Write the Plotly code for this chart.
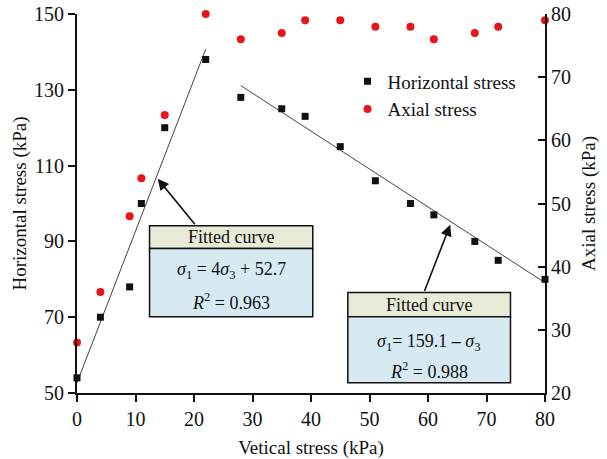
import plotly.graph_objects as go

# Vertical stress (kPa) at each loading step
vertical_stress = [0, 4, 9, 11, 15, 22, 28, 35, 39, 45, 51, 57, 61, 68, 72, 80]
# Horizontal stress (kPa), left axis
horizontal_stress = [54, 70, 78, 100, 120, 138, 128, 125, 123, 115, 106, 100, 97, 90, 85, 80]
# Axial stress (kPa), right axis
axial_stress = [28, 36, 48, 54, 64, 80, 76, 77, 79, 79, 78, 78, 76, 77, 78, 79]

# Linear fits: sigma1 = slope * sigma3 + intercept
fit1_slope, fit1_intercept, fit1_span = 4.0, 52.7, (0, 22)
fit2_slope, fit2_intercept, fit2_span = -1.0, 159.1, (28, 80)

FONT = "Liberation Serif, Times New Roman, serif"

fig = go.Figure()

for (a, b), m, c in [(fit1_span, fit1_slope, fit1_intercept),
                     (fit2_span, fit2_slope, fit2_intercept)]:
    fig.add_trace(go.Scatter(
        x=[a, b], y=[m * a + c, m * b + c], mode="lines",
        line=dict(color="#444444", width=1), showlegend=False,
        hoverinfo="skip"))

fig.add_trace(go.Scatter(
    x=vertical_stress, y=horizontal_stress, mode="markers",
    name="Horizontal stress", cliponaxis=False,
    marker=dict(symbol="square", size=7, color="#111111")))

fig.add_trace(go.Scatter(
    x=vertical_stress, y=axial_stress, mode="markers", yaxis="y2",
    name="Axial stress", cliponaxis=False,
    marker=dict(symbol="circle", size=8, color="#e8141c")))

# Boxes describing the fitted curves (data coordinates of the left axis)
boxes = [
    dict(x0=12.4, x1=40.3, top=94.1, mid=88.1, bottom=70.1,
         eq="<i>σ</i><sub>1</sub> = 4<i>σ</i><sub>3</sub> + 52.7",
         r2="<i>R</i><sup>2</sup> = 0.963", eq_y=82.3, r2_y=74.2,
         arrow_tail=(20.35, 94.1), arrow_head=(13.8, 106.5)),
    dict(x0=46.3, x1=74.1, top=76.5, mid=70.1, bottom=52.7,
         eq="<i>σ</i><sub>1</sub>= 159.1 <b>–</b> <i>σ</i><sub>3</sub>",
         r2="<i>R</i><sup>2</sup> = 0.988", eq_y=63.4, r2_y=56.0,
         arrow_tail=(59.3, 76.5), arrow_head=(63.8, 94.4)),
]

shapes, annotations = [], []
for bx in boxes:
    shapes.append(dict(type="rect", xref="x", yref="y", x0=bx["x0"], x1=bx["x1"],
                       y0=bx["mid"], y1=bx["top"], fillcolor="#e7ebd7",
                       line=dict(color="#111111", width=1.5), layer="above"))
    shapes.append(dict(type="rect", xref="x", yref="y", x0=bx["x0"], x1=bx["x1"],
                       y0=bx["bottom"], y1=bx["mid"], fillcolor="#d7e9f1",
                       line=dict(color="#111111", width=1.5), layer="above"))
    cx = (bx["x0"] + bx["x1"]) / 2
    annotations.append(dict(x=cx, y=(bx["top"] + bx["mid"]) / 2, xref="x", yref="y",
                            text="Fitted curve", showarrow=False,
                            font=dict(family=FONT, size=18, color="#111111")))
    annotations.append(dict(x=cx, y=bx["eq_y"], xref="x", yref="y", text=bx["eq"],
                            showarrow=False, font=dict(family=FONT, size=18, color="#111111")))
    annotations.append(dict(x=cx, y=bx["r2_y"], xref="x", yref="y", text=bx["r2"],
                            showarrow=False, font=dict(family=FONT, size=18, color="#111111")))
    annotations.append(dict(x=bx["arrow_head"][0], y=bx["arrow_head"][1], xref="x", yref="y",
                            ax=bx["arrow_tail"][0], ay=bx["arrow_tail"][1],
                            axref="x", ayref="y", text="", showarrow=True,
                            arrowhead=2, arrowsize=1.4, arrowwidth=1.6,
                            arrowcolor="#111111"))

axis_common = dict(showline=True, linecolor="#111111", linewidth=2, showgrid=False,
                   zeroline=False, ticklen=7, tickwidth=2, tickcolor="#111111",
                   automargin=False,
                   tickfont=dict(family=FONT, size=20, color="#111111"),
                   title_font=dict(family=FONT, size=19, color="#111111"))

fig.update_layout(
    width=607, height=459,
    margin=dict(l=77, r=62, t=14, b=66),
    paper_bgcolor="white", plot_bgcolor="white",
    font=dict(family=FONT, color="#111111"),
    xaxis=dict(range=[0, 80], tick0=0, dtick=10, ticks="outside",
               title=dict(text="Vetical stress (kPa)", standoff=12), **axis_common),
    yaxis=dict(range=[50, 150], tick0=50, dtick=20, ticks="outside",
               title=dict(text="Horizontal stress (kPa)", standoff=2), **axis_common),
    yaxis2=dict(range=[20, 80], tick0=20, dtick=10, ticks="inside", overlaying="y",
                side="right",
                title=dict(text="Axial stress (kPa)", standoff=12), **axis_common),
    legend=dict(x=0.578, y=0.872, xanchor="left", yanchor="top",
                bgcolor="rgba(0,0,0,0)", font=dict(family=FONT, size=19, color="#111111"),
                itemwidth=30, tracegroupgap=0),
    shapes=shapes, annotations=annotations,
)

fig.write_html("out.html")
